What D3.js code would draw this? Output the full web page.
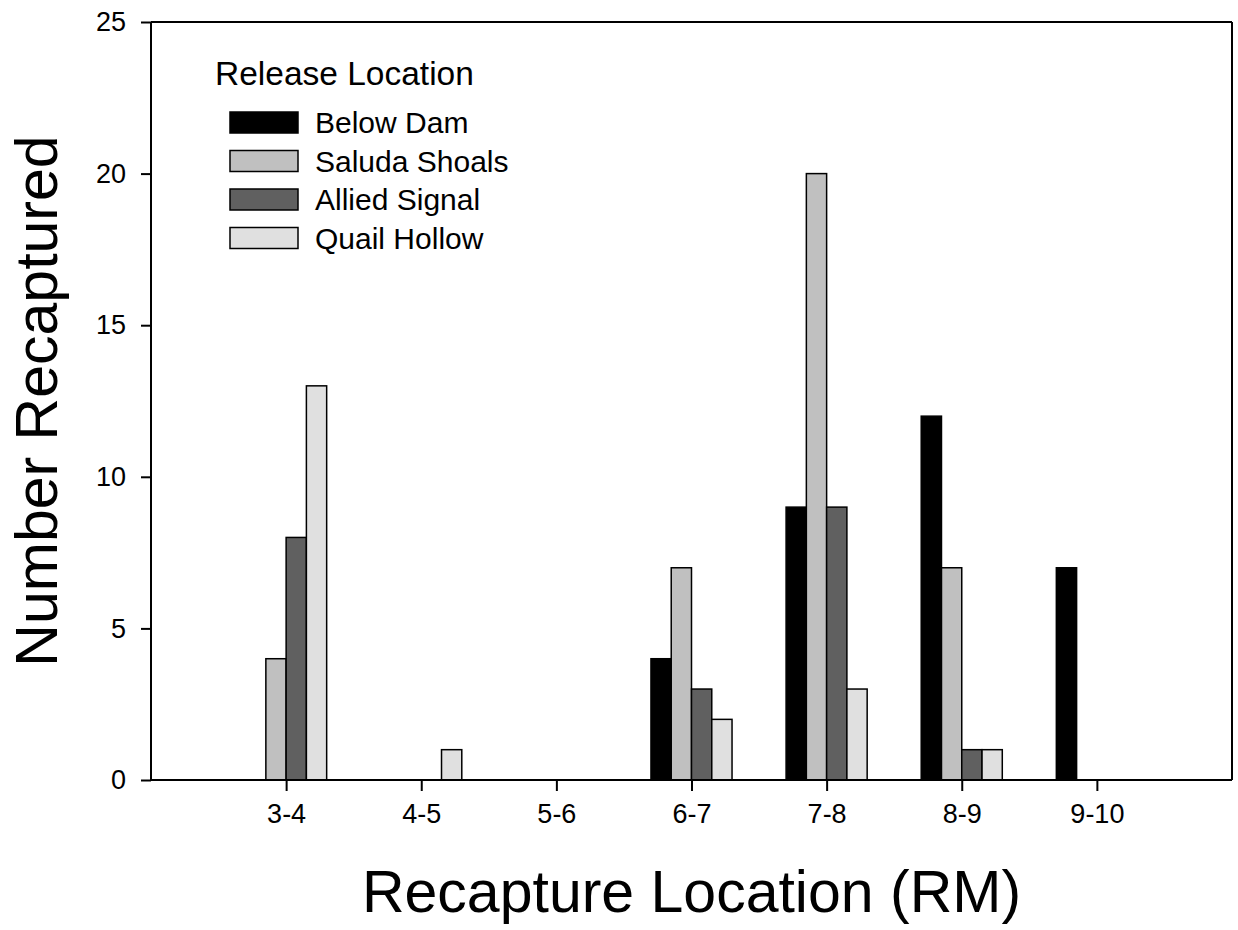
<!DOCTYPE html>
<html>
<head>
<meta charset="utf-8">
<script src="https://cdn.jsdelivr.net/npm/d3@7"></script>
<style>
  html, body { margin: 0; padding: 0; background: #fff; }
  text { font-family: "Liberation Sans", Arial, sans-serif; fill: #000; }
</style>
</head>
<body>
<svg id="chart" width="1238" height="930"></svg>
<script>
const categories = ["3-4", "4-5", "5-6", "6-7", "7-8", "8-9", "9-10"];
const seriesNames = ["Below Dam", "Saluda Shoals", "Allied Signal", "Quail Hollow"];
const belowDam     = [0, 0, 0, 4, 9, 12, 7];
const saludaShoals = [4, 0, 0, 7, 20, 7, 0];
const alliedSignal = [8, 0, 0, 3, 9, 1, 0];
const quailHollow  = [13, 1, 0, 2, 3, 1, 0];
const seriesColors = ["#000000", "#c0c0c0", "#606060", "#e0e0e0"];
const yTicks = [0, 5, 10, 15, 20, 25];

const seriesValues = [belowDam, saludaShoals, alliedSignal, quailHollow];

const svg = d3.select("#chart");
const pLeft = 151, pRight = 1232, pTop = 22, pBottom = 780;

// category positions: one empty slot on each side
const x = d3.scaleLinear().domain([0, categories.length + 1]).range([pLeft, pRight]);
const y = d3.scaleLinear().domain([0, 25]).range([pBottom, pTop]);
const slot = x(1) - x(0);
const barW = slot * 0.15;

const bars = svg.append("g");
seriesValues.forEach((vals, s) => {
  bars.selectAll(null)
    .data(vals.map((v, i) => ({v, i})).filter(d => d.v > 0))
    .enter().append("rect")
    .attr("x", d => x(d.i + 1) + (s - 2) * barW)
    .attr("y", d => y(d.v))
    .attr("width", barW)
    .attr("height", d => y(0) - y(d.v))
    .attr("fill", seriesColors[s])
    .attr("stroke", "#000")
    .attr("stroke-width", 1.5);
});

// frame top and right
svg.append("line").attr("x1", pLeft).attr("x2", pRight).attr("y1", pTop).attr("y2", pTop)
  .attr("stroke", "#000").attr("stroke-width", 2);
svg.append("line").attr("x1", pRight).attr("x2", pRight).attr("y1", pTop).attr("y2", pBottom)
  .attr("stroke", "#000").attr("stroke-width", 2);

// y axis
const yAxis = d3.axisLeft(y).tickValues(yTicks).tickSize(10).tickPadding(15).tickFormat(d3.format("d"));
const gy = svg.append("g").attr("transform", `translate(${pLeft},0)`).call(yAxis);
gy.select(".domain").attr("stroke-width", 2).attr("d", `M0,${pTop}V${pBottom}`);
gy.selectAll(".tick line").attr("stroke-width", 2);
gy.selectAll(".tick text").attr("font-size", 27).attr("font-family", "Liberation Sans, Arial, sans-serif");

// x axis
const xAxis = d3.axisBottom(x).tickValues(d3.range(1, categories.length + 1))
  .tickFormat(d => categories[d - 1]).tickSize(11).tickPadding(13);
const gx = svg.append("g").attr("transform", `translate(0,${pBottom})`).call(xAxis);
gx.select(".domain").attr("stroke-width", 2).attr("d", `M${pLeft},0H${pRight}`);
gx.selectAll(".tick line").attr("stroke-width", 2);
gx.selectAll(".tick text").attr("font-size", 27).attr("font-family", "Liberation Sans, Arial, sans-serif");

// axis titles
svg.append("text").attr("x", (pLeft + pRight) / 2).attr("y", 912)
  .attr("text-anchor", "middle").attr("font-size", 59).text("Recapture Location (RM)");
svg.append("text").attr("transform", `translate(57,${(pTop + pBottom) / 2}) rotate(-90)`)
  .attr("text-anchor", "middle").attr("font-size", 59).text("Number Recaptured");

// legend
const lg = svg.append("g");
lg.append("text").attr("x", 215).attr("y", 85).attr("font-size", 33.5).text("Release Location");
seriesNames.forEach((name, s) => {
  const yy = 112 + s * 38.5;
  lg.append("rect").attr("x", 230).attr("y", yy).attr("width", 68).attr("height", 21)
    .attr("fill", seriesColors[s]).attr("stroke", "#000").attr("stroke-width", 1.5);
  lg.append("text").attr("x", 315).attr("y", yy + 21).attr("font-size", 30).text(name);
});
</script>
</body>
</html>
